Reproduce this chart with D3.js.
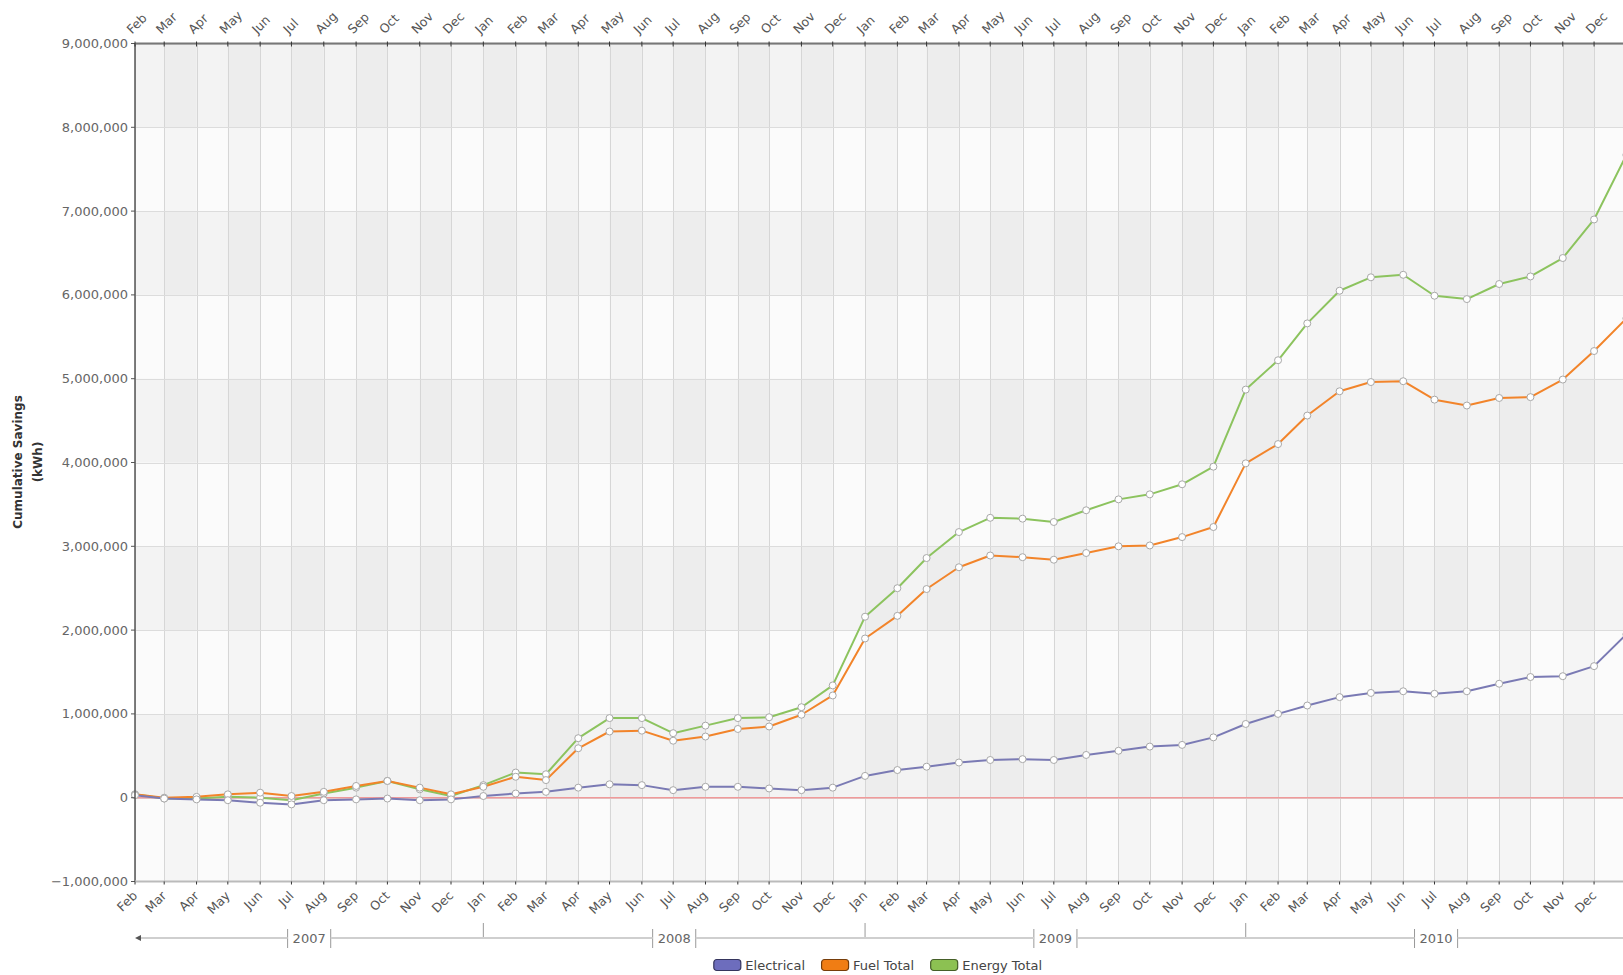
<!DOCTYPE html>
<html><head><meta charset="utf-8">
<script src="https://cdn.jsdelivr.net/npm/d3@7"></script>
<style>
html,body{margin:0;padding:0;background:#fff;overflow:hidden;}
svg{display:block;}
text{font-family:"DejaVu Sans",sans-serif;}
</style></head><body>
<svg id="chart" width="1640" height="975"></svg>
<script>
// ---- data ----
const monthDates = [
 "2007-02-01","2007-03-01","2007-04-01","2007-05-01","2007-06-01","2007-07-01","2007-08-01","2007-09-01","2007-10-01","2007-11-01","2007-12-01",
 "2008-01-01","2008-02-01","2008-03-01","2008-04-01","2008-05-01","2008-06-01","2008-07-01","2008-08-01","2008-09-01","2008-10-01","2008-11-01","2008-12-01",
 "2009-01-01","2009-02-01","2009-03-01","2009-04-01","2009-05-01","2009-06-01","2009-07-01","2009-08-01","2009-09-01","2009-10-01","2009-11-01","2009-12-01",
 "2010-01-01","2010-02-01","2010-03-01","2010-04-01","2010-05-01","2010-06-01","2010-07-01","2010-08-01","2010-09-01","2010-10-01","2010-11-01","2010-12-01",
 "2011-01-01"];
const electrical = [
 30000,-10000,-20000,-30000,-60000,-80000,-30000,-20000,-10000,-30000,-20000,
 20000,50000,70000,120000,160000,150000,90000,130000,130000,110000,90000,120000,
 260000,330000,370000,420000,450000,460000,450000,510000,560000,610000,630000,720000,
 880000,1000000,1100000,1200000,1250000,1270000,1240000,1270000,1360000,1440000,1450000,1570000,
 1950000];
const fuelTotal = [
 40000,0,10000,40000,60000,20000,70000,140000,200000,120000,40000,
 130000,250000,210000,590000,790000,800000,680000,730000,820000,850000,990000,1220000,
 1900000,2170000,2490000,2750000,2890000,2870000,2840000,2920000,3000000,3010000,3110000,3230000,
 3990000,4220000,4560000,4850000,4960000,4970000,4750000,4680000,4770000,4780000,4990000,5330000,
 5720000];
const energyTotal = [
 40000,-10000,-10000,10000,0,-30000,50000,120000,200000,100000,20000,
 150000,300000,280000,710000,950000,950000,770000,860000,950000,960000,1080000,1340000,
 2160000,2500000,2860000,3170000,3340000,3330000,3290000,3430000,3560000,3620000,3740000,3950000,
 4870000,5220000,5660000,6050000,6210000,6240000,5990000,5950000,6130000,6220000,6440000,6900000,
 7670000];
const seriesNames = ["Electrical","Fuel Total","Energy Total"];
const seriesColors = ["#7a7ab4","#f2842a","#8cc35e"];
const legendFills = ["#6d6dbd","#f07d14","#8cc152"];
const yTicks = [-1000000,0,1000000,2000000,3000000,4000000,5000000,6000000,7000000,8000000,9000000];
const monthNames = ["Jan","Feb","Mar","Apr","May","Jun","Jul","Aug","Sep","Oct","Nov","Dec"];
const years = [2007,2008,2009,2010];
const yAxisTitle = ["Cumulative Savings","(kWh)"];

// ---- layout ----
const L = 135, T = 43.5, B = 881.5, R = 1626.4;
const svg = d3.select("#chart");
const parse = d3.utcParse("%Y-%m-%d");
const dates = monthDates.map(parse);
const x = d3.scaleUtc().domain([dates[0], dates[dates.length-1]]).range([L, R]);
const y = d3.scaleLinear().domain([-1000000, 9000000]).range([B, T]);

const defs = svg.append("defs");
defs.append("clipPath").attr("id","plot").append("rect")
  .attr("x",L).attr("y",T).attr("width",R-L).attr("height",B-T);

const plot = svg.append("g").attr("clip-path","url(#plot)");
plot.append("rect").attr("x",L).attr("y",T).attr("width",R-L).attr("height",B-T).attr("fill","#fbfbfb");

// vertical month bands
const monthTicks = d3.utcMonth.range(dates[0], d3.utcDay.offset(dates[dates.length-1],1));
const labelTicks = monthTicks.filter(d => x(d) < R - 10);
const bandMonths = d3.utcMonth.range(dates[0], d3.utcMonth.offset(dates[dates.length-1],1));
plot.selectAll("rect.vb").data(bandMonths).join("rect").attr("class","vb")
  .attr("x", d=>x(d)).attr("y",T)
  .attr("width", d=>x(d3.utcMonth.offset(d,1))-x(d)).attr("height",B-T)
  .attr("fill","#000").attr("fill-opacity",(d,i)=> i%2===1 ? 0.025 : 0.0);
// horizontal bands
const rowStarts = yTicks.slice(0,-1);
plot.selectAll("rect.hb").data(rowStarts).join("rect").attr("class","hb")
  .attr("x",L).attr("width",R-L)
  .attr("y", d=>y(d+1000000)).attr("height", d=>y(d)-y(d+1000000))
  .attr("fill","#000").attr("fill-opacity",(d,i)=> i%2===1 ? 0.03 : 0.0);
// grid
plot.selectAll("line.vg").data(monthTicks).join("line").attr("class","vg")
  .attr("x1",d=>Math.round(x(d))+0.5).attr("x2",d=>Math.round(x(d))+0.5).attr("y1",T).attr("y2",B)
  .attr("stroke","#d6d6d6").attr("stroke-width",1);
plot.selectAll("line.hg").data(yTicks).join("line").attr("class","hg")
  .attr("x1",L).attr("x2",R).attr("y1",d=>Math.round(y(d))+0.5).attr("y2",d=>Math.round(y(d))+0.5)
  .attr("stroke","#dcdcdc").attr("stroke-width",1);
// zero line
plot.append("line").attr("x1",L).attr("x2",R).attr("y1",y(0)).attr("y2",y(0))
  .attr("stroke","#f09a9a").attr("stroke-width",1.5);

// series
const allSeries = [electrical, fuelTotal, energyTotal];
const line = d3.line().x((d,i)=>x(dates[i])).y(d=>y(d));
const drawOrder = [2,1,0];
const lineG = svg.append("g");
drawOrder.forEach(s=>{
  lineG.append("path").datum(allSeries[s]).attr("d",line)
    .attr("fill","none").attr("stroke",seriesColors[s]).attr("stroke-width",2)
    .attr("stroke-linejoin","round");
});
drawOrder.forEach(s=>{
  lineG.append("g").selectAll("circle").data(allSeries[s]).join("circle")
    .attr("cx",(d,i)=>x(dates[i])).attr("cy",d=>y(d)).attr("r",3.5)
    .attr("fill","#fff").attr("stroke","#a8a8a8").attr("stroke-width",1);
});

// left axis
const ax = svg.append("g");
ax.append("line").attr("x1",L).attr("x2",L).attr("y1",T).attr("y2",B).attr("stroke","#555").attr("stroke-width",1.5);
ax.selectAll("line.yt").data(yTicks).join("line").attr("class","yt")
  .attr("x1",L-4).attr("x2",L).attr("y1",d=>y(d)).attr("y2",d=>y(d)).attr("stroke","#555");
ax.selectAll("text.yl").data(yTicks).join("text").attr("class","yl")
  .attr("x",L-7).attr("y",d=>y(d)).attr("dy","0.35em").attr("text-anchor","end")
  .attr("font-size",13).attr("fill","#666").text(d3.format(","));
// top axis
ax.append("line").attr("x1",L).attr("x2",1640).attr("y1",T).attr("y2",T).attr("stroke","#777").attr("stroke-width",2);
ax.selectAll("line.tt").data(monthTicks).join("line").attr("class","tt")
  .attr("x1",d=>x(d)).attr("x2",d=>x(d)).attr("y1",T-2).attr("y2",T+3).attr("stroke","#333");
ax.selectAll("text.tl").data(labelTicks).join("text").attr("class","tl")
  .attr("transform",d=>`translate(${x(d)-3},${T-9}) rotate(-45)`)
  .attr("text-anchor","start").attr("font-size",12.5).attr("fill","#555")
  .text(d=>monthNames[d.getUTCMonth()]);
// bottom axis
ax.append("line").attr("x1",L).attr("x2",1640).attr("y1",B).attr("y2",B).attr("stroke","#bbb").attr("stroke-width",2);
ax.selectAll("line.bt").data(monthTicks).join("line").attr("class","bt")
  .attr("x1",d=>x(d)).attr("x2",d=>x(d)).attr("y1",B).attr("y2",B+3).attr("stroke","#333");
ax.selectAll("text.bl").data(labelTicks).join("text").attr("class","bl")
  .attr("transform",d=>`translate(${x(d)+3},${B+15}) rotate(-45)`)
  .attr("text-anchor","end").attr("font-size",12.5).attr("fill","#555")
  .text(d=>monthNames[d.getUTCMonth()]);

// y axis title
const yt = svg.append("text").attr("transform","translate(0,462) rotate(-90)")
  .attr("text-anchor","middle").attr("font-family","'Open Sans',sans-serif")
  .attr("font-weight","bold").attr("font-size",12).attr("fill","#333");
yt.append("tspan").attr("x",0).attr("y",22).text(yAxisTitle[0]);
yt.append("tspan").attr("x",0).attr("y",42).text(yAxisTitle[1]);

// year band
const YB = 938;
const yb = svg.append("g");
const segs = [];
let prevX = L + 4;
years.forEach(yr=>{
  const x0 = Math.max(x(new Date(Date.UTC(yr,0,1))), L);
  const x1 = Math.min(x(new Date(Date.UTC(yr+1,0,1))), R);
  const cx = (x0+x1)/2;
  const t = yb.append("text").attr("x",cx).attr("y",YB).attr("dy","0.35em")
    .attr("text-anchor","middle").attr("font-size",13).attr("fill","#666").text(yr);
  const w = t.node().getComputedTextLength();
  const lb = cx - w/2 - 5, rb = cx + w/2 + 5;
  [lb,rb].forEach(bx=> yb.append("line").attr("x1",bx).attr("x2",bx).attr("y1",YB-9).attr("y2",YB+10).attr("stroke","#999"));
  segs.push([prevX, lb]);
  prevX = rb;
  if (yr>years[0]) yb.append("line").attr("x1",x0).attr("x2",x0).attr("y1",YB-15).attr("y2",YB).attr("stroke","#999");
});
segs.push([prevX, 1640]);
segs.forEach(s=> yb.append("line").attr("x1",s[0]).attr("x2",s[1]).attr("y1",YB).attr("y2",YB).attr("stroke","#cfcfcf").attr("stroke-width",2));
yb.append("path").attr("d",`M${L},${YB} l6,-3 l0,6 z`).attr("fill","#555");

// legend
const lg = svg.append("g");
let lx = 0;
seriesNames.forEach((n,i)=>{
  const g = lg.append("g");
  g.append("rect").attr("x",0).attr("y",-5.5).attr("width",27).attr("height",11).attr("rx",3)
    .attr("fill",legendFills[i]).attr("stroke",d3.color(legendFills[i]).darker(2)).attr("stroke-width",1.2);
  const t = g.append("text").attr("x",31.5).attr("y",0).attr("dy","0.35em").attr("font-size",13).attr("fill","#444").text(n);
  const w = 31.5 + t.node().getComputedTextLength();
  g.attr("transform",`translate(${lx},0)`);
  lx += w + 16.5;
});
const totalW = lx - 16.5;
lg.attr("transform",`translate(${878 - totalW/2},965)`);
</script>
</body></html>
